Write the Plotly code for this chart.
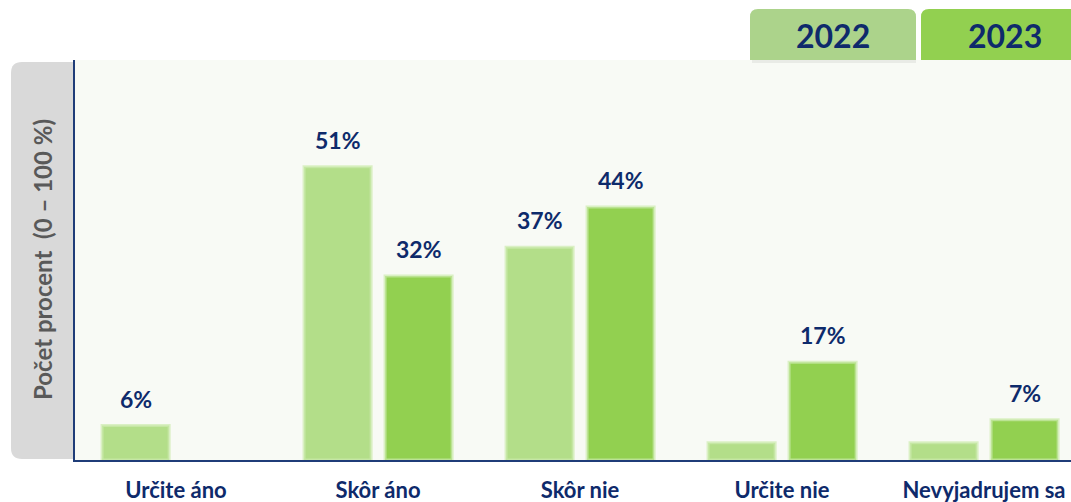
import plotly.graph_objects as go

categories = ["Určite áno", "Skôr áno", "Skôr nie", "Určite nie", "Nevyjadrujem sa"]
years = ["2022", "2023"]
values_2022 = [6, 51, 37, 3, 3]
values_2023 = [None, 32, 44, 17, 7]
labels_2022 = ["6%", "51%", "37%", "", ""]
labels_2023 = ["", "32%", "44%", "17%", "7%"]
y_title = "Počet procent  (0 – 100 %)"

W, H = 1071, 502
L, R, T, B = 75, 0, 60, 42
PW, PH = W - L - R, H - T - B

NAVY = "#0e2a6b"
C22 = "#b3de89"
C23 = "#92d050"
FONT = "Lato"

BAR_W = 0.332
OFF_22 = -0.366
OFF_23 = 0.035


def px(x):
    return (x - L) / PW


def py(y):
    return (H - B - y) / PH


fig = go.Figure()
glow = dict(color="rgba(205,235,175,0.7)", width=3)
fig.add_trace(go.Bar(x=list(range(len(categories))), y=values_2022, name=years[0],
                     width=BAR_W, offset=OFF_22,
                     marker=dict(color=C22, line=glow), hoverinfo="y"))
fig.add_trace(go.Bar(x=list(range(len(categories))), y=values_2023, name=years[1],
                     width=BAR_W, offset=OFF_23,
                     marker=dict(color=C23, line=glow), hoverinfo="y"))

annotations = []
for i, (v, t) in enumerate(zip(values_2022, labels_2022)):
    if t:
        annotations.append(dict(x=i + OFF_22 + BAR_W / 2, y=v, xref="x", yref="y", text=t,
                                showarrow=False, yanchor="middle", yshift=27,
                                font=dict(family=FONT, size=23, color=NAVY, weight="bold")))
for i, (v, t) in enumerate(zip(values_2023, labels_2023)):
    if t:
        annotations.append(dict(x=i + OFF_23 + BAR_W / 2, y=v, xref="x", yref="y", text=t,
                                showarrow=False, yanchor="middle", yshift=27,
                                font=dict(family=FONT, size=23, color=NAVY, weight="bold")))

# y-axis title
annotations.append(dict(x=px(42), y=py(260), xref="paper", yref="paper", text=y_title,
                        textangle=-90, showarrow=False, xanchor="center", yanchor="middle",
                        font=dict(family=FONT, size=24, color="#595959", weight="bold")))

# legend labels
annotations.append(dict(x=px(833), y=py(36), xref="paper", yref="paper", text=years[0],
                        showarrow=False, xanchor="center", yanchor="middle",
                        font=dict(family=FONT, size=32, color=NAVY, weight="bold")))
annotations.append(dict(x=px(1005), y=py(36), xref="paper", yref="paper", text=years[1],
                        showarrow=False, xanchor="center", yanchor="middle",
                        font=dict(family=FONT, size=32, color=NAVY, weight="bold")))


def top_rounded(x0, x1, y0, y1, r):
    return (f"M {px(x0)},{py(y1)} L {px(x0)},{py(y0 + r)} "
            f"Q {px(x0)},{py(y0)} {px(x0 + r)},{py(y0)} "
            f"L {px(x1 - r)},{py(y0)} Q {px(x1)},{py(y0)} {px(x1)},{py(y0 + r)} "
            f"L {px(x1)},{py(y1)} Z")


def left_rounded(x0, x1, y0, y1, r):
    return (f"M {px(x1)},{py(y0)} L {px(x0 + r)},{py(y0)} "
            f"Q {px(x0)},{py(y0)} {px(x0)},{py(y0 + r)} "
            f"L {px(x0)},{py(y1 - r)} Q {px(x0)},{py(y1)} {px(x0 + r)},{py(y1)} "
            f"L {px(x1)},{py(y1)} Z")


shapes = [
    dict(type="path", xref="paper", yref="paper", path=left_rounded(11, 74, 62, 459, 11),
         fillcolor="#d9d9d9", line=dict(width=0), layer="below"),
    dict(type="rect", xref="paper", yref="paper", x0=px(752), x1=px(916), y0=py(63), y1=py(60),
         fillcolor="rgba(0,0,0,0.06)", line=dict(width=0)),
    dict(type="path", xref="paper", yref="paper", path=top_rounded(750, 916, 9, 60, 8),
         fillcolor="#acd38b", line=dict(width=0)),
    dict(type="path", xref="paper", yref="paper", path=top_rounded(921, 1080, 9, 60, 8),
         fillcolor=C23, line=dict(width=0)),
]

fig.update_layout(
    width=W, height=H,
    margin=dict(l=L, r=R, t=T, b=B, pad=0, autoexpand=False),
    paper_bgcolor="white",
    plot_bgcolor="#f8faf5",
    barmode="overlay",
    showlegend=False,
    annotations=annotations,
    shapes=shapes,
    font=dict(family=FONT, color=NAVY),
    xaxis=dict(range=[-0.5, -0.5 + PW / 202.0], tickvals=list(range(len(categories))),
               ticktext=categories, showgrid=False, zeroline=False, showline=True,
               linecolor="#1f3c78", linewidth=1.5, ticks="", ticklabelstandoff=10,
               automargin=False,
               tickfont=dict(family=FONT, size=22, color=NAVY, weight="bold"),
               fixedrange=True),
    yaxis=dict(range=[0, 400 / 5.75], showgrid=False, zeroline=False, showline=True,
               linecolor="#1f3c78", linewidth=1.5, showticklabels=False, ticks="",
               automargin=False, fixedrange=True),
)

fig.write_html("out.html", config={"displayModeBar": False},
               post_script="document.body.style.margin='0px';document.body.style.overflow='hidden';")
